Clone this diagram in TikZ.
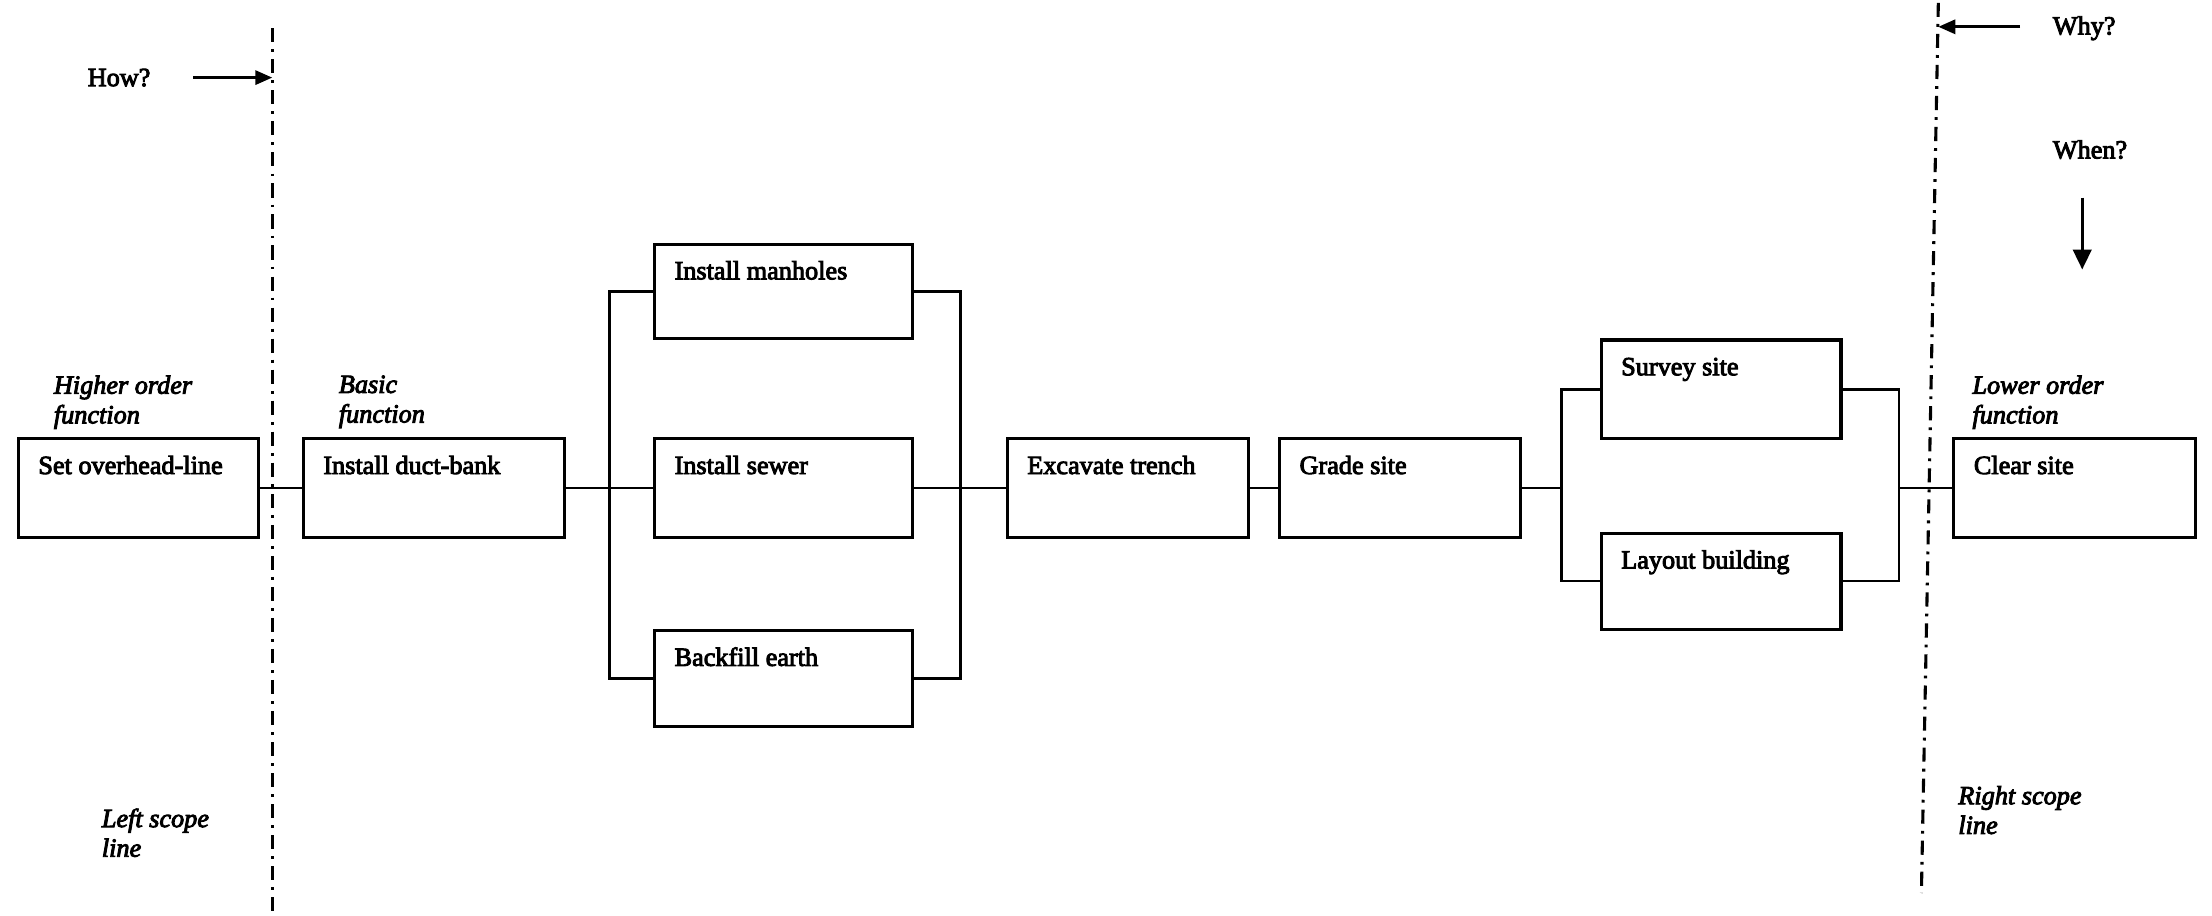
\documentclass[tikz,border=0pt]{standalone}
\usepackage{fontspec}
\setmainfont{Liberation Serif}[FakeBold=3.5]
\usetikzlibrary{arrows.meta}
\begin{document}
\begin{tikzpicture}[x=1pt,y=-1pt,
  procframe/.style={draw, line width=2.2pt, rectangle, anchor=north west, inner sep=0pt, outer sep=0pt},
  boxtext/.style={anchor=base west, inner sep=0pt, font=\fontsize{18.6}{21}\selectfont},
  role/.style={anchor=north west, inner sep=0pt, align=left, font=\fontsize{18.6}{21}\selectfont\itshape},
  question/.style={anchor=west, inner sep=0pt, font=\fontsize{18.6}{21}\selectfont},
  link/.style={line width=1.8pt},
  scopeline/.style={line width=2.2pt, dash pattern=on 10pt off 5pt on 2pt off 5pt},
  pointer/.style={line width=2pt, -{Triangle[length=12pt,width=10pt]}}
]
\useasboundingbox (0,0) rectangle (1568,649);

% function box: name, left, top, right, bottom, label
\newcommand\procbox[6]{%
  \node[procframe, minimum width={(#4-#2)*1pt}, minimum height={(#5-#3)*1pt}] (#1) at (#2,#3) {};
  \node[boxtext] at ([shift={(14,25)}]#1.north west) {#6};
}

\procbox{so}{13}{311}{183}{381}{Set overhead-line}
\procbox{db}{215}{311}{400}{381}{Install duct-bank}
\procbox{mh}{464}{173}{647}{240}{Install manholes}
\procbox{sw}{464}{311}{647}{381}{Install sewer}
\procbox{bf}{464}{447}{647}{515}{Backfill earth}
\procbox{ex}{714}{311}{885}{381}{Excavate trench}
\procbox{gr}{907}{311}{1078}{381}{Grade site}
\procbox{sv}{1135}{241}{1305}{311}{Survey site}
\procbox{lb}{1135}{378}{1305}{446}{Layout building}
\procbox{cs}{1385}{311}{1556}{381}{Clear site}

% junctions of the parallel branches
\coordinate (jl1) at (432,346);
\coordinate (jr1) at (681,346);
\coordinate (jl2) at (1107,346);
\coordinate (jr2) at (1346,346);

\draw[link] (so.east) -- (db.west);
\draw[link] (db.east) -- (jl1) -- (sw.west);
\draw[link] (mh.west) -| (jl1);
\draw[link] (bf.west) -| (jl1);
\draw[link] (sw.east) -- (jr1) -- (ex.west);
\draw[link] (mh.east) -| (jr1);
\draw[link] (bf.east) -| (jr1);
\draw[link] (ex.east) -- (gr.west);
\draw[link] (gr.east) -- (jl2);
\draw[link] (sv.west) -| (jl2);
\draw[link] (lb.west) -| (jl2);
\draw[link] (sv.east) -| (jr2);
\draw[link] (lb.east) -| (jr2);
\draw[link] (jr2) -- (cs.west);

% role labels
\node[role] (hof) at (38,266) {Higher order\\function};
\node[role] (bas) at (240,266) {Basic\\function};
\node[role] (lof) at (1398,266) {Lower order\\function};
\node[role] (lsl) at (72,573) {Left scope\\line};
\node[role] (rsl) at (1388,557) {Right scope\\line};

% scope lines
\coordinate (lst) at (193,20);
\coordinate (lsb) at (193,649);
\coordinate (rst) at (1374,2);
\coordinate (rsb) at (1362,633);
\draw[scopeline] (lst) -- (lsb);
\draw[scopeline] (rst) -- (rsb);

% logic questions
\node[question] (how) at (62,55) {How?};
\coordinate (howfrom) at (137,55);
\coordinate (howto) at (193,55);
\draw[pointer] (howfrom) -- (howto);

\node[question] (why) at (1455,20) {Why?};
\coordinate (whyfrom) at (1432,19);
\coordinate (whyto) at (1374,19);
\draw[pointer] (whyfrom) -- (whyto);

\node[question] (when) at (1455,106) {When?};
\coordinate (whenfrom) at (1476,140);
\coordinate (whento) at (1476,191);
\draw[pointer, -{Triangle[length=14pt,width=13pt]}] (whenfrom) -- (whento);
\end{tikzpicture}
\end{document}
